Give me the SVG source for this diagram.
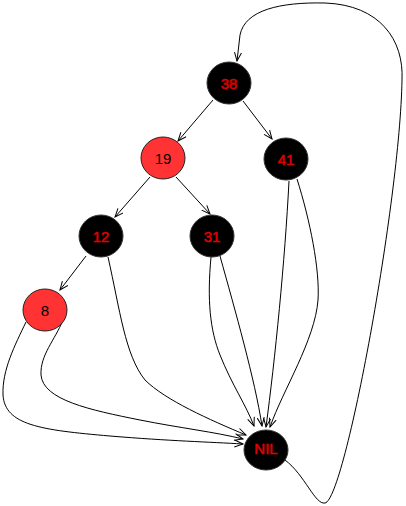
<svg xmlns="http://www.w3.org/2000/svg" width="406" height="506" viewBox="0 0 406 506">
<defs>
<marker id="arr" markerUnits="userSpaceOnUse" markerWidth="12" markerHeight="12" refX="9" refY="4" orient="auto">
<path d="M0.5,0.5 L9,4 L0.5,7.5" fill="none" stroke="#000" stroke-width="1"/>
</marker>
<style>
.e{fill:none;stroke:#000;stroke-width:1;marker-end:url(#arr)}
.b{fill:#000;stroke:#333;stroke-width:1}
.r{fill:#ff3333;stroke:#222;stroke-width:1}
.tb{fill:#e00000;stroke:#e00000;stroke-width:0.5;font-family:"Liberation Sans",Arial,sans-serif;font-size:15px;text-anchor:middle}
.tr{fill:#000;font-family:"Liberation Sans",Arial,sans-serif;font-size:15px;text-anchor:middle}
</style>
</defs>
<g id="connectors">
<path class="e" d="M213,100 L178,141"/>
<path class="e" d="M243,101 L272,139"/>
<path class="e" d="M150,177 L115,217"/>
<path class="e" d="M176,177 L210,214"/>
<path class="e" d="M86,256 L60,290"/>
<path class="e" d="M108,257 C120,310 125,355 145,380 C165,400 210,420 246,435"/>
<path class="e" d="M26,322 C15,345 2,370 3,395 C5,425 40,430 110,436 C170,441 210,442 243,444"/>
<path class="e" d="M63,320 C55,340 40,355 41,375 C43,400 90,410 140,420 C180,428 215,432 243,439"/>
<path class="e" d="M211,257 C207,300 210,330 220,355 C232,385 246,405 254,426"/>
<path class="e" d="M220,256 C235,310 255,380 262,426"/>
<path class="e" d="M289,181 C285,260 275,360 266,427"/>
<path class="e" d="M297,179 C310,220 320,270 318,300 C315,340 283,390 270,427"/>
<path class="e" d="M285,460 C305,475 315,505 325,503 C345,500 400,200 402,80 C404,40 380,5 325,3 C280,2 245,10 240,35 L237,61"/>
</g>
<g id="n38"><ellipse class="b" cx="229" cy="83" rx="22" ry="21"/><text class="tb" x="229" y="89">38</text></g>
<g id="n19"><ellipse class="r" cx="163" cy="158" rx="22" ry="21"/><text class="tr" x="163" y="164">19</text></g>
<g id="n41"><ellipse class="b" cx="286" cy="159" rx="22" ry="21"/><text class="tb" x="286" y="165">41</text></g>
<g id="n12"><ellipse class="b" cx="101" cy="236" rx="22" ry="21"/><text class="tb" x="101" y="242">12</text></g>
<g id="n31"><ellipse class="b" cx="212" cy="236" rx="22" ry="21"/><text class="tb" x="212" y="242">31</text></g>
<g id="n8"><ellipse class="r" cx="45" cy="310" rx="22" ry="21"/><text class="tr" x="45" y="316">8</text></g>
<g id="nNIL"><ellipse class="b" cx="266" cy="450" rx="22" ry="20"/><text class="tb" x="266" y="454">NIL</text></g>
</svg>
